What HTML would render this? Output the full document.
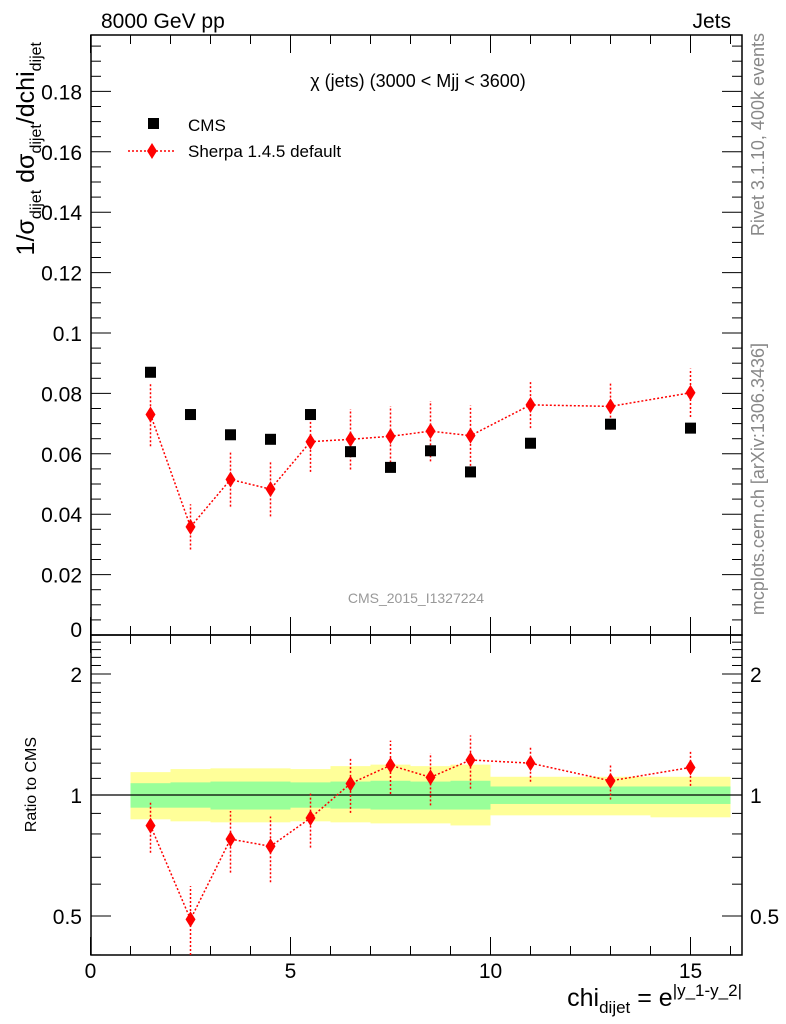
<!DOCTYPE html>
<html><head><meta charset="utf-8"><style>
body{margin:0;background:#fff;}
svg{display:block;font-family:"Liberation Sans",sans-serif;}
</style></head><body>
<svg id="c" width="786" height="1024" xmlns="http://www.w3.org/2000/svg"></svg>
<script>
const xs=[1.5,2.5,3.5,4.5,5.5,6.5,7.5,8.5,9.5,11,13,15];
const cms=[0.087,0.073,0.0663,0.0648,0.073,0.0607,0.0555,0.061,0.054,0.0635,0.0698,0.0685];
const sherpa=[0.073,0.0358,0.0515,0.0483,0.064,0.0648,0.0658,0.0675,0.066,0.0762,0.0757,0.0802];
const sherpaErr=[0.0105,0.0075,0.009,0.009,0.01,0.01,0.01,0.01,0.01,0.0077,0.0077,0.008];
const binEdges=[1,2,3,4,5,6,7,8,9,10,12,14,16];
const yelUp=[1.14,1.16,1.165,1.165,1.16,1.18,1.19,1.18,1.19,1.11,1.11,1.11];
const yelDn=[0.87,0.86,0.855,0.855,0.86,0.855,0.85,0.85,0.84,0.89,0.89,0.88];
const grnUp=[1.07,1.075,1.08,1.08,1.075,1.08,1.085,1.08,1.085,1.05,1.05,1.05];
const grnDn=[0.93,0.93,0.92,0.92,0.93,0.925,0.92,0.92,0.92,0.95,0.95,0.95];
const mainTicks=[0,0.02,0.04,0.06,0.08,0.1,0.12,0.14,0.16,0.18];
const xTicks=[0,5,10,15];

const svg=document.getElementById('c');
const NS='http://www.w3.org/2000/svg';
const L=91,R=742,T=35,M=635,B=955;
const X=v=>90.5+v*40;
const Y=v=>635-v*3020;
const YR=r=>795-121*Math.log2(r);
function el(tag,attrs,parent){const e=document.createElementNS(NS,tag);for(const k in attrs)e.setAttribute(k,attrs[k]);(parent||svg).appendChild(e);return e;}
function txt(s,attrs,parent){const e=el('text',attrs,parent);e.innerHTML=s;return e;}

const bands=el('g',{});


for(let i=0;i<binEdges.length-1;i++){
  const r=el('rect',{x:X(binEdges[i]),y:YR(yelUp[i]),width:X(binEdges[i+1])-X(binEdges[i]),height:YR(yelDn[i])-YR(yelUp[i]),fill:'#ffff99'},bands);
  
  
  const g=el('rect',{x:X(binEdges[i]),y:YR(grnUp[i]),width:X(binEdges[i+1])-X(binEdges[i]),height:YR(grnDn[i])-YR(grnUp[i]),fill:'#99ff99'},bands);
  
  
}
el('line',{x1:L,x2:R,y1:YR(1),y2:YR(1),stroke:'#000','stroke-width':1.3});

el('rect',{x:L,y:T,width:R-L,height:M-T,fill:'none',stroke:'#000','stroke-width':1.5});
el('rect',{x:L,y:M,width:R-L,height:B-M,fill:'none',stroke:'#000','stroke-width':1.5});

for(let v=0;v<=16;v++){
  const big=v%5===0, h=big?18:9;
  [T,M].forEach(y0=>el('line',{x1:X(v),x2:X(v),y1:y0,y2:y0+h,stroke:'#000'}));
  [M,B].forEach(y0=>el('line',{x1:X(v),x2:X(v),y1:y0,y2:y0-h,stroke:'#000'}));
}
xTicks.forEach(v=>{const t=txt(String(v),{x:X(v),y:978,'font-size':21,'text-anchor':'middle'});});

for(let i=0;i<=39;i++){
  const v=i*0.005; if(Y(v)<T) break;
  const big=i%4===0,h=big?20:10;
  el('line',{x1:L,x2:L+h,y1:Y(v),y2:Y(v),stroke:'#000'});
  el('line',{x1:R,x2:R-h,y1:Y(v),y2:Y(v),stroke:'#000'});
}
mainTicks.forEach(v=>{const t=txt(String(+v.toFixed(2)),{x:82,y:Math.min(Y(v)+8,637),'font-size':21,'text-anchor':'end'});});

const rt=[0.4,0.5,0.6,0.7,0.8,0.9,1,1.1,1.2,1.3,1.4,1.5,1.6,1.7,1.8,1.9,2,2.1,2.2,2.3,2.4,2.5];
rt.forEach(v=>{const big=(v===0.5||v===1||v===2),h=big?20:10;const y=YR(v);if(y<M||y>B)return;
  el('line',{x1:L,x2:L+h,y1:y,y2:y,stroke:'#000'});el('line',{x1:R,x2:R-h,y1:y,y2:y,stroke:'#000'});});
[[2,'2'],[1,'1'],[0.5,'0.5']].forEach(([v,s])=>{
  const a=txt(s,{x:82,y:YR(v)+8,'font-size':21,'text-anchor':'end'});
  const b=txt(s,{x:750,y:YR(v)+8,'font-size':21});
});

const sp=el('g',{});


el('polyline',{points:xs.map((x,i)=>X(x)+','+Y(sherpa[i])).join(' '),fill:'none',stroke:'#f00','stroke-width':1.5,'stroke-dasharray':'2,2'},sp);
function diamond(cx,cy,g){const d=el('polygon',{points:`${cx},${cy-8} ${cx+5},${cy} ${cx},${cy+8} ${cx-5},${cy}`,fill:'#f00'},g);}
xs.forEach((x,i)=>{
  el('line',{x1:X(x),x2:X(x),y1:Y(sherpa[i]-sherpaErr[i]),y2:Y(sherpa[i]+sherpaErr[i]),stroke:'#f00','stroke-width':1.5,'stroke-dasharray':'2,2'},sp);
  diamond(X(x),Y(sherpa[i]),sp);
});
xs.forEach((x,i)=>{const r=el('rect',{x:X(x)-5.5,y:Y(cms[i])-5.5,width:11,height:11,fill:'#000'});});

const rs=el('g',{});


const ratio=xs.map((x,i)=>sherpa[i]/cms[i]);
el('polyline',{points:xs.map((x,i)=>X(x)+','+YR(ratio[i])).join(' '),fill:'none',stroke:'#f00','stroke-width':1.5,'stroke-dasharray':'2,2'},rs);
xs.forEach((x,i)=>{
  const lo=Math.max((sherpa[i]-sherpaErr[i])/cms[i],0.4);
  el('line',{x1:X(x),x2:X(x),y1:Math.min(YR(lo),B),y2:YR((sherpa[i]+sherpaErr[i])/cms[i]),stroke:'#f00','stroke-width':1.5,'stroke-dasharray':'2,2'},rs);
  diamond(X(x),YR(ratio[i]),rs);
});

function T2(s,a,name){const t=txt(s,a);return t;}
T2('8000 GeV pp',{x:101,y:28,'font-size':21},'beam-label');
T2('Jets',{x:731,y:28,'font-size':21,'text-anchor':'end'},'process-label');
T2('χ (jets) (3000 &lt; Mjj &lt; 3600)',{x:418,y:87,'font-size':18,'text-anchor':'middle'},'plot-title');
el('rect',{x:148,y:118,width:11,height:11,fill:'#000'});
T2('CMS',{x:188,y:131,'font-size':17},'legend-cms');
el('line',{x1:128,x2:175,y1:151,y2:151,stroke:'#f00','stroke-width':1.5,'stroke-dasharray':'2,2'});
diamond(152,151,svg);
T2('Sherpa 1.4.5 default',{x:188,y:157,'font-size':17},'legend-sherpa');
T2('CMS_2015_I1327224',{x:416,y:603,'font-size':14,fill:'#999','text-anchor':'middle'},'analysis-label');
T2('Rivet 3.1.10,  400k events',{x:0,y:0,'font-size':18,fill:'#888','text-anchor':'end',transform:'translate(764,33) rotate(-90)'},'rivet-label');
T2('mcplots.cern.ch [arXiv:1306.3436]',{x:0,y:0,'font-size':18,fill:'#888','text-anchor':'end',transform:'translate(764,343) rotate(-90)'},'mcplots-label');
T2('1/σ<tspan font-size="16" dy="7">dijet</tspan><tspan dy="-7"> dσ</tspan><tspan font-size="16" dy="7">dijet</tspan><tspan dy="-7">/dchi</tspan><tspan font-size="16" dy="7">dijet</tspan>',{x:0,y:0,'font-size':25,'text-anchor':'end',transform:'translate(34,42) rotate(-90)'},'y-axis-title');
T2('Ratio to CMS',{x:0,y:0,'font-size':16,'text-anchor':'end',transform:'translate(36,737) rotate(-90)'},'ratio-axis-title');
T2('chi<tspan font-size="17" dy="7">dijet</tspan><tspan dy="-7"> = e</tspan><tspan font-size="17" dy="-10">|y_1-y_2|</tspan>',{x:742,y:1006,'font-size':25,'text-anchor':'end'},'x-axis-title');
</script>
</body></html>
